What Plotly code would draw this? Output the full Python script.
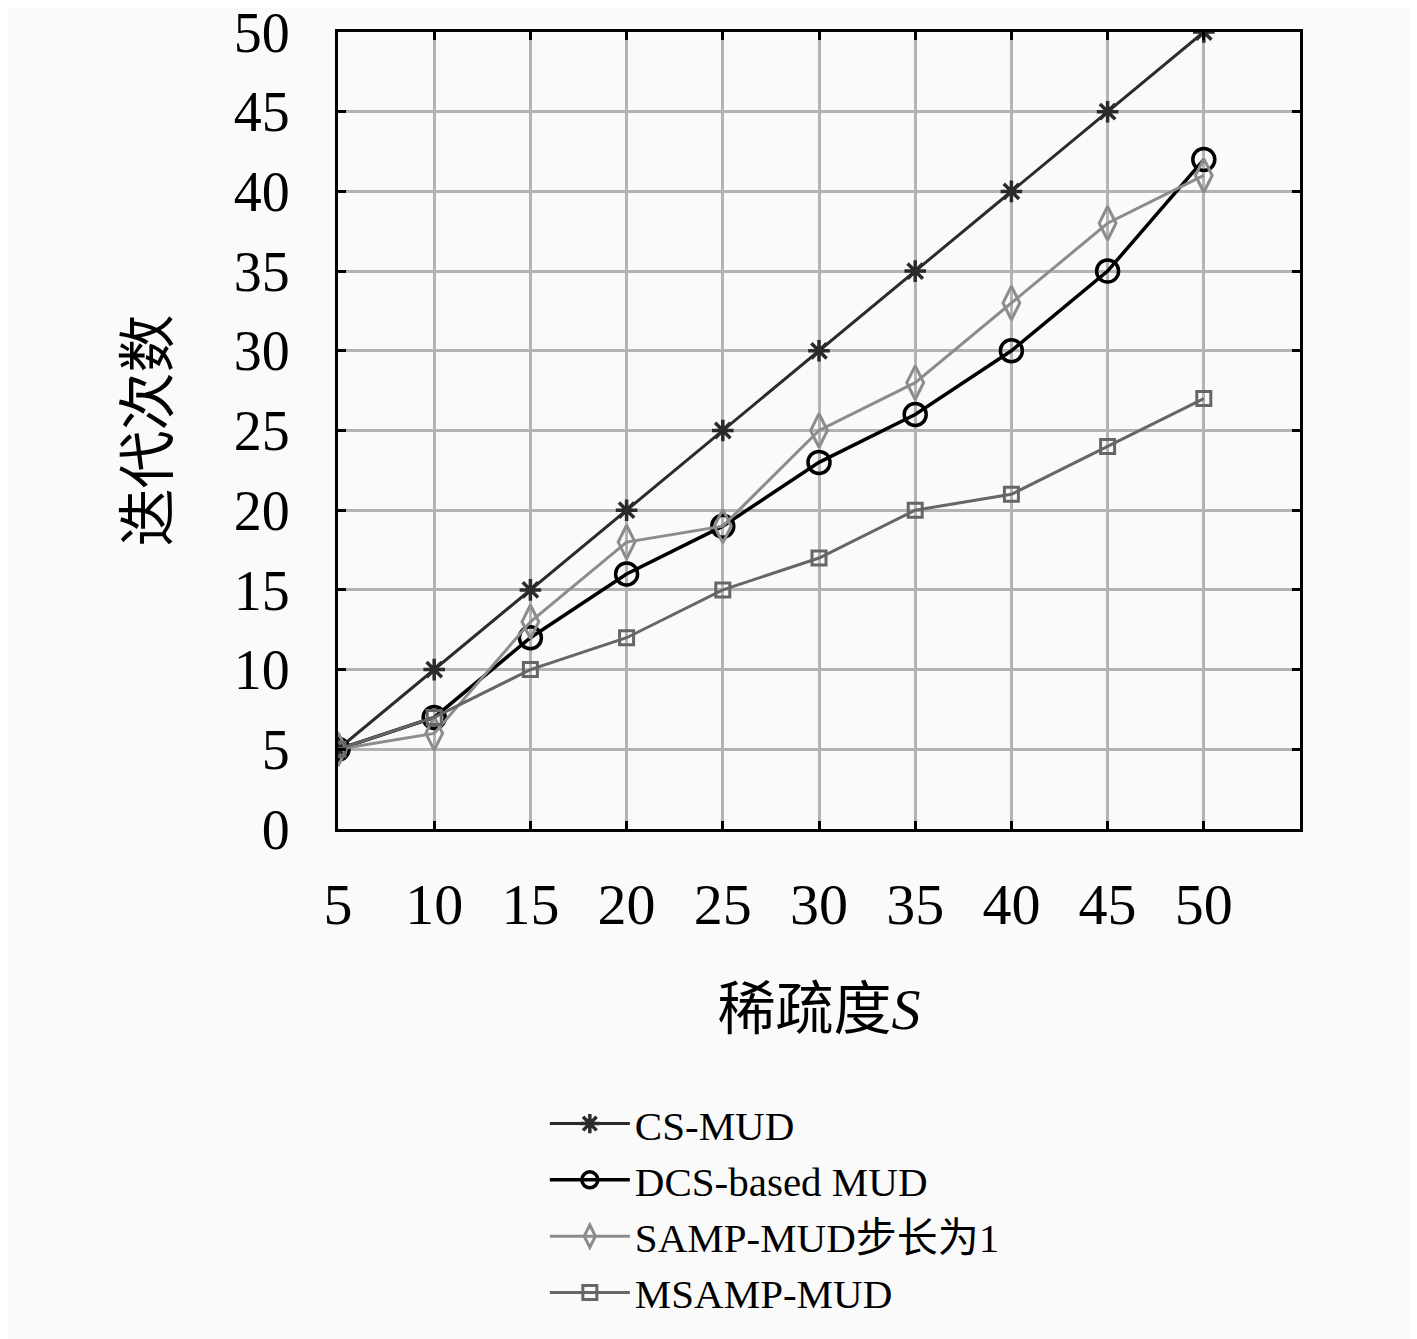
import plotly.graph_objects as go

# 稀疏度 S
sparsity = [5, 10, 15, 20, 25, 30, 35, 40, 45, 50]

cs_mud = [5, 10, 15, 20, 25, 30, 35, 40, 45, 50]
dcs_mud = [5, 7, 12, 16, 19, 23, 26, 30, 35, 42]
samp_mud = [5, 6, 13, 18, 19, 25, 28, 33, 38, 41]
msamp_mud = [5, 7, 10, 12, 15, 17, 20, 21, 24, 27]

x_ticks = [5, 10, 15, 20, 25, 30, 35, 40, 45, 50]
y_ticks = [0, 5, 10, 15, 20, 25, 30, 35, 40, 45, 50]

FONT = "Liberation Serif, Noto Sans CJK SC, serif"

fig = go.Figure()

fig.add_trace(go.Scatter(
    x=sparsity, y=cs_mud, name="CS-MUD", mode="lines+markers",
    line=dict(color="#2b2b2b", width=3),
    marker=dict(symbol="asterisk-open", size=18, color="#2b2b2b",
                line=dict(color="#2b2b2b", width=3.5))
))
fig.add_trace(go.Scatter(
    x=sparsity, y=dcs_mud, name="DCS-based MUD", mode="lines+markers",
    line=dict(color="#000000", width=3.5),
    marker=dict(symbol="circle-open", size=22, color="#000000",
                line=dict(color="#000000", width=3.5))
))
fig.add_trace(go.Scatter(
    x=sparsity, y=samp_mud, name="SAMP-MUD步长为1", mode="lines+markers",
    line=dict(color="#8c8c8c", width=3),
    marker=dict(symbol="diamond-tall-open", size=24, color="#8c8c8c",
                line=dict(color="#8c8c8c", width=3))
))
fig.add_trace(go.Scatter(
    x=sparsity, y=msamp_mud, name="MSAMP-MUD", mode="lines+markers",
    line=dict(color="#666666", width=3),
    marker=dict(symbol="square-open", size=14, color="#666666",
                line=dict(color="#666666", width=3))
))

fig.update_xaxes(
    range=[5, 55], tickvals=x_ticks, ticks="inside", ticklen=8, tickwidth=3,
    tickcolor="black", showline=True, linecolor="black", linewidth=3,
    mirror="ticks", showgrid=True, gridcolor="#b3b3b3", gridwidth=3,
    zeroline=False, automargin=False,
    ticklabelstandoff=22, ticklabeloverflow="allow",
    tickfont=dict(family=FONT, size=58, color="black"),
    title=dict(text="稀疏度<i>S</i>", standoff=53,
               font=dict(family=FONT, size=58, color="black"))
)
fig.update_yaxes(
    range=[0, 50], tickvals=y_ticks, ticks="inside", ticklen=8, tickwidth=3,
    tickcolor="black", showline=True, linecolor="black", linewidth=3,
    mirror="ticks", showgrid=True, gridcolor="#b3b3b3", gridwidth=3,
    zeroline=False, automargin=False,
    ticklabelstandoff=34, ticklabeloverflow="allow",
    tickfont=dict(family=FONT, size=56, color="black"),
    title=dict(text="迭代次数", standoff=47,
               font=dict(family=FONT, size=58, color="black"))
)

fig.update_layout(
    width=1409, height=1331,
    margin=dict(l=330, r=117, t=24, b=505),
    paper_bgcolor="#fafafa", plot_bgcolor="#fafafa",
    font=dict(family=FONT, color="black"),
    legend=dict(
        x=0.215, y=-0.328, xanchor="left", yanchor="top",
        bgcolor="rgba(0,0,0,0)", font=dict(family=FONT, size=41, color="black"),
        tracegroupgap=0, itemwidth=80
    )
)

fig.write_html("out.html")
